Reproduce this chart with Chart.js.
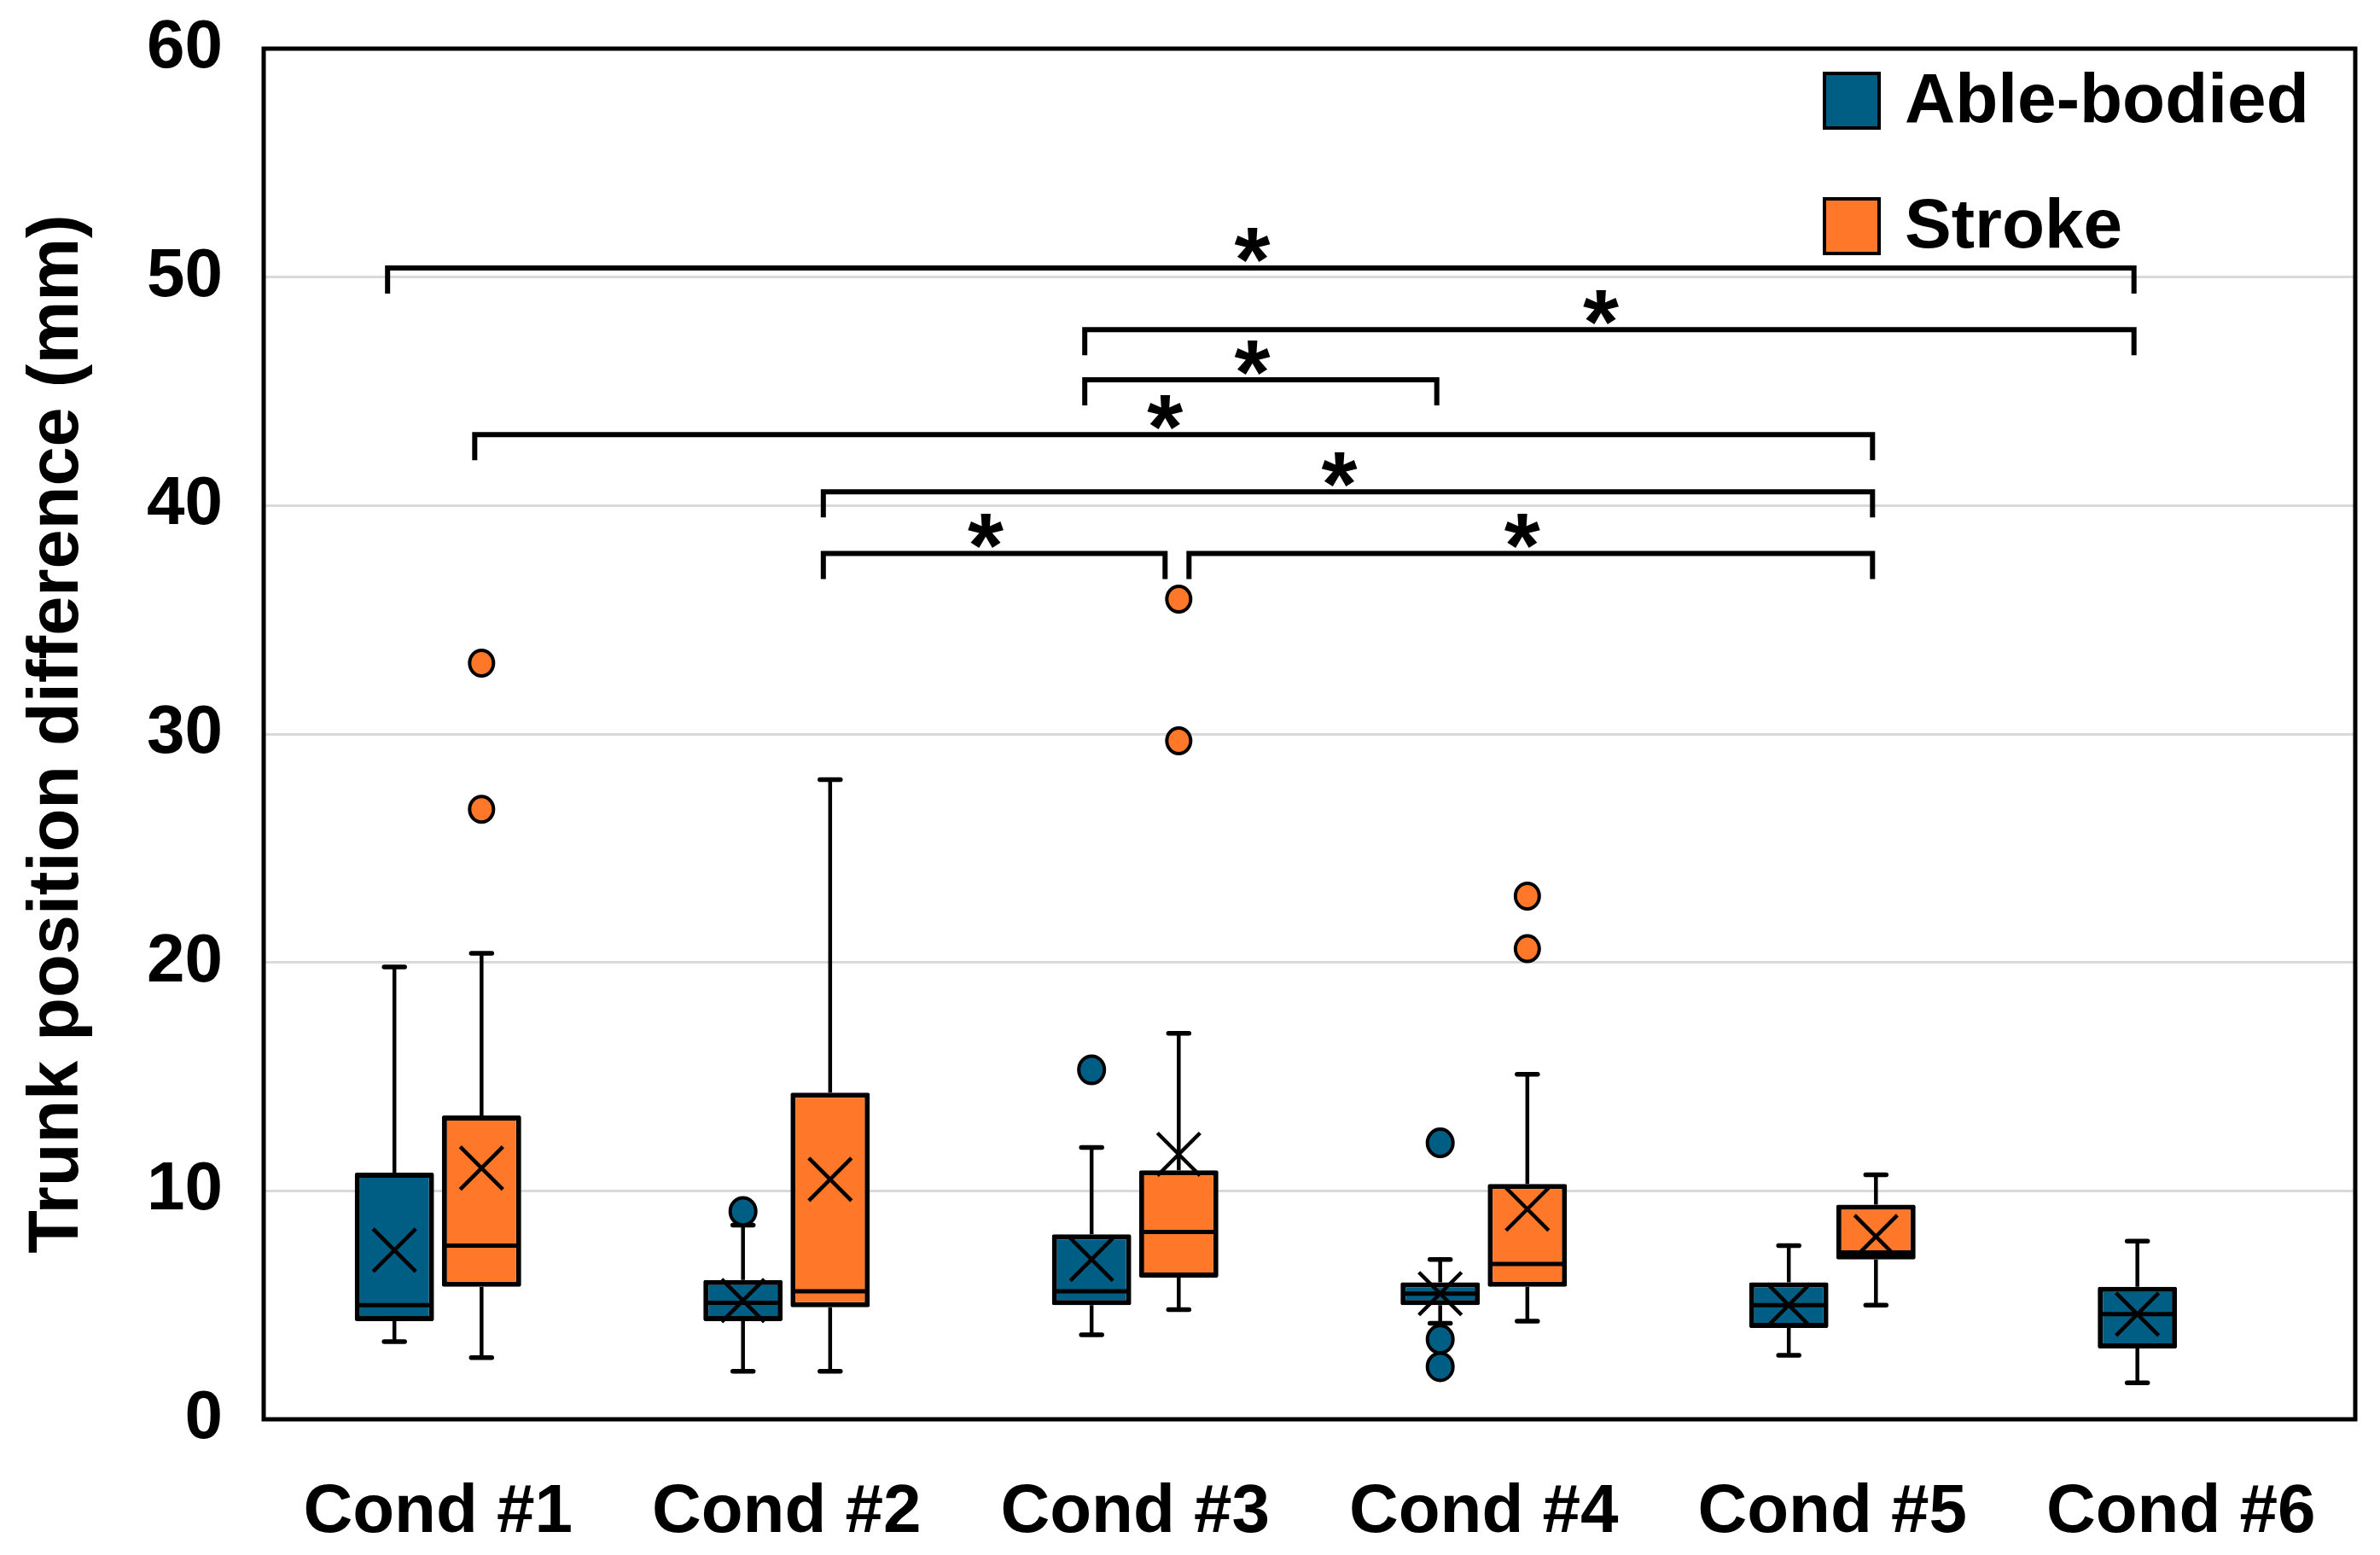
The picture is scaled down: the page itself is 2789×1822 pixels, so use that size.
<!DOCTYPE html>
<html><head><meta charset="utf-8">
<script src="https://cdn.jsdelivr.net/npm/chart.js@4.4.1/dist/chart.umd.min.js"></script>
<style>html,body{margin:0;padding:0;background:#fff;}canvas{display:block;}</style>
</head><body>
<canvas id="c" width="2789" height="1822" style="width:2789px;height:1822px"></canvas>
<script>
const categories = ['Cond #1','Cond #2','Cond #3','Cond #4','Cond #5','Cond #6'];
const seriesNames = ['Able-bodied','Stroke'];
const yTicks = [0,10,20,30,40,50,60];

// Able-bodied
const ableQ1      = [4.3, 4.3, 5.0, 5.0, 4.0, 3.1];
const ableQ3      = [10.8, 6.1, 8.1, 6.0, 6.0, 5.8];
const ableMedian  = [5.0, 5.1, 5.6, 5.5, 5.0, 4.6];
const ableMean    = [7.4, 5.2, 7.0, 5.5, 5.0, 4.6];
const ableMin     = [3.4, 2.1, 3.7, 4.2, 2.8, 1.6];
const ableMax     = [19.8, 8.5, 11.9, 7.0, 7.6, 7.8];
const ableOutliers = [[], [9.1], [15.3], [12.1, 3.5, 2.3], [], []];

// Stroke
const strokeQ1     = [5.8, 4.9, 6.2, 5.8, 7.0, null];
const strokeQ3     = [13.3, 14.3, 10.9, 10.3, 9.4, null];
const strokeMedian = [7.6, 5.6, 8.2, 6.8, 7.3, null];
const strokeMean   = [11.0, 10.5, 11.6, 9.2, 8.0, null];
const strokeMin    = [2.7, 2.1, 4.8, 4.3, 5.0, null];
const strokeMax    = [20.4, 28.0, 16.9, 15.1, 10.7, null];
const strokeOutliers = [[33.1, 26.7], [], [35.9, 29.7], [22.9, 20.6], [], []];

// Significance brackets: [category, series] endpoints, level in mm
const bracketFrom  = [[0,0],[2,0],[2,0],[0,1],[1,1],[1,1],[2,1]];
const bracketTo    = [[5,0],[5,0],[3,0],[4,1],[4,1],[2,1],[4,1]];
const bracketLevel = [50.4, 47.7, 45.5, 43.1, 40.6, 37.9, 37.9];
const bracketLabel = ['*','*','*','*','*','*','*'];

const BLUE = '#005e85';
const ORANGE = '#ff782a';
const FONT = 'Liberation Sans, Arial, sans-serif';

const groups = [
  {q1: ableQ1, q3: ableQ3, med: ableMedian, mean: ableMean, min: ableMin, max: ableMax, out: ableOutliers, color: BLUE},
  {q1: strokeQ1, q3: strokeQ3, med: strokeMedian, mean: strokeMean, min: strokeMin, max: strokeMax, out: strokeOutliers, color: ORANGE}
];

const boxPlugin = {
  id: 'boxExtras',
  beforeDatasetsDraw(chart) {
    const ctx = chart.ctx, ys = chart.scales.y;
    groups.forEach((g, di) => {
      const meta = chart.getDatasetMeta(di);
      meta.data.forEach((bar, i) => {
        if (g.q1[i] == null) return;
        const x = bar.x;
        ctx.save();
        ctx.strokeStyle = '#000';
        ctx.lineWidth = 4.5;
        ctx.beginPath();
        ctx.moveTo(x, ys.getPixelForValue(g.q3[i])); ctx.lineTo(x, ys.getPixelForValue(g.max[i]));
        ctx.moveTo(x, ys.getPixelForValue(g.q1[i])); ctx.lineTo(x, ys.getPixelForValue(g.min[i]));
        ctx.stroke();
        ctx.lineWidth = 5.5;
        ctx.lineCap = 'round';
        ctx.beginPath();
        [g.max[i], g.min[i]].forEach(v => {
          const yy = ys.getPixelForValue(v);
          ctx.moveTo(x - 12, yy); ctx.lineTo(x + 12, yy);
        });
        ctx.stroke();
        ctx.restore();
      });
    });
  },
  afterDatasetsDraw(chart) {
    const ctx = chart.ctx, ys = chart.scales.y, area = chart.chartArea;
    const centers = [chart.getDatasetMeta(0).data.map(b => b.x), chart.getDatasetMeta(1).data.map(b => b.x)];
    groups.forEach((g, di) => {
      const meta = chart.getDatasetMeta(di);
      meta.data.forEach((bar, i) => {
        if (g.q1[i] == null) return;
        const x = bar.x, hw = bar.width / 2;
        ctx.save();
        ctx.strokeStyle = '#000';
        // median
        ctx.lineWidth = 5;
        ctx.beginPath();
        const my = ys.getPixelForValue(g.med[i]);
        ctx.moveTo(x - hw + 3, my); ctx.lineTo(x + hw - 3, my);
        ctx.stroke();
        // mean X
        const mY = ys.getPixelForValue(g.mean[i]);
        ctx.lineWidth = 4.5;
        ctx.beginPath();
        ctx.moveTo(x - 25, mY - 25); ctx.lineTo(x + 25, mY + 25);
        ctx.moveTo(x + 25, mY - 25); ctx.lineTo(x - 25, mY + 25);
        ctx.stroke();
        // outliers
        g.out[i].forEach(v => {
          ctx.beginPath();
          ctx.ellipse(x, ys.getPixelForValue(v), di === 0 ? 15 : 14, di === 0 ? 16 : 15, 0, 0, Math.PI * 2);
          ctx.fillStyle = g.color;
          ctx.fill();
          ctx.lineWidth = 4;
          ctx.stroke();
        });
        ctx.restore();
      });
    });

    // brackets
    ctx.save();
    ctx.strokeStyle = '#000';
    ctx.fillStyle = '#000';
    ctx.lineWidth = 6;
    ctx.lineCap = 'butt';
    ctx.lineJoin = 'miter';
    const tick = 30;
    bracketLevel.forEach((lv, k) => {
      const f = bracketFrom[k], t = bracketTo[k];
      let x1 = centers[f[1]][f[0]] - 8, x2 = centers[t[1]][t[0]] - 4;
      // small gap where one bracket ends and the next starts at the same level
      bracketLevel.forEach((lv2, j) => {
        if (j === k || lv2 !== lv) return;
        const f2 = bracketFrom[j], t2 = bracketTo[j];
        if (f2[0] === t[0] && f2[1] === t[1]) x2 -= 12;
        if (t2[0] === f[0] && t2[1] === f[1]) x1 += 20;
      });
      const yy = ys.getPixelForValue(lv);
      ctx.beginPath();
      ctx.moveTo(x1, yy + tick); ctx.lineTo(x1, yy); ctx.lineTo(x2, yy); ctx.lineTo(x2, yy + tick);
      ctx.stroke();
      ctx.font = 'bold 108px ' + FONT;
      ctx.textAlign = 'center';
      ctx.textBaseline = 'alphabetic';
      const m = ctx.measureText(bracketLabel[k]);
      const target = yy - 26;
      ctx.fillText(bracketLabel[k], (x1 + x2) / 2 - 10, target + (m.actualBoundingBoxAscent - m.actualBoundingBoxDescent) / 2);
    });
    ctx.restore();

    // legend
    ctx.save();
    const lx = 2138, sw = 64;
    const ly = [118, 265];
    chart.data.datasets.forEach((ds, i) => {
      ctx.fillStyle = ds.backgroundColor;
      ctx.fillRect(lx, ly[i] - sw / 2, sw, sw);
      ctx.strokeStyle = '#000';
      ctx.lineWidth = 4;
      ctx.strokeRect(lx, ly[i] - sw / 2, sw, sw);
      ctx.fillStyle = '#000';
      ctx.font = 'bold 82px ' + FONT;
      ctx.textAlign = 'left';
      ctx.textBaseline = 'middle';
      ctx.fillText(ds.label, 2232, ly[i] + 2);
    });
    ctx.restore();

    // plot border
    ctx.save();
    ctx.strokeStyle = '#000';
    ctx.lineWidth = 5;
    ctx.strokeRect(area.left, area.top, area.right - area.left, area.bottom - area.top);
    ctx.restore();
  }
};

const ctx = document.getElementById('c').getContext('2d');
new Chart(ctx, {
  type: 'bar',
  data: {
    labels: categories,
    datasets: [
      {label: seriesNames[0], data: ableQ1.map((q, i) => [q, ableQ3[i]]), backgroundColor: BLUE, borderColor: '#000', borderWidth: 6, borderSkipped: false, borderRadius: 2},
      {label: seriesNames[1], data: strokeQ1.map((q, i) => q == null ? null : [q, strokeQ3[i]]), backgroundColor: ORANGE, borderColor: '#000', borderWidth: 6, borderSkipped: false, borderRadius: 2}
    ]
  },
  options: {
    responsive: false,
    devicePixelRatio: 1,
    animation: false,
    layout: {padding: {top: 57, right: 29, left: 0, bottom: 0}},
    datasets: {bar: {categoryPercentage: 0.5, barPercentage: 0.91}},
    plugins: {legend: {display: false}, tooltip: {enabled: false}},
    scales: {
      x: {
        grid: {display: false},
        border: {display: false},
        ticks: {color: '#000', font: {family: FONT, weight: 'bold', size: 80}, padding: 54, maxRotation: 0},
        afterFit: s => { s.height = 159; }
      },
      y: {
        min: 0, max: 60,
        afterBuildTicks: s => { s.ticks = yTicks.map(v => ({value: v})); },
        ticks: {color: '#000', font: {family: FONT, weight: 'bold', size: 80}, padding: 0},
        grid: {color: '#d9d9d9', lineWidth: 3, drawTicks: true, tickLength: 48, tickColor: 'rgba(0,0,0,0)'},
        border: {display: false},
        title: {display: true, text: 'Trunk position difference (mm)', color: '#000',
                font: {family: FONT, weight: 'bold', size: 83}, padding: {top: 18, bottom: 0}},
        afterFit: s => { s.width = 309; }
      }
    }
  },
  plugins: [boxPlugin]
});
</script>
</body></html>
